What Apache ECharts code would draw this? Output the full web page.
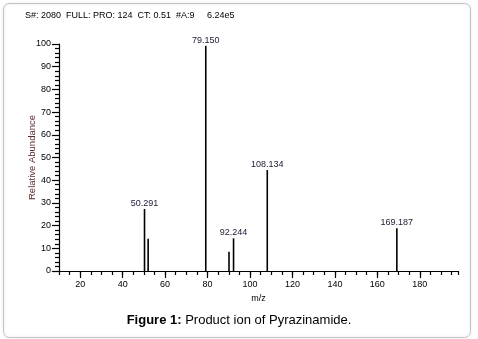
<!DOCTYPE html>
<html><head><meta charset="utf-8">
<script src="https://cdn.jsdelivr.net/npm/echarts@6/dist/echarts.min.js"></script>
<style>html,body{margin:0;padding:0;background:#fff}#c{width:478px;height:339px}</style>
</head><body><div id="c"></div>
<script>
const peakMz = [50.291, 52.0, 79.150, 90.1, 92.244, 108.134, 169.187];
const peakAbund = [27.3, 14.2, 99.2, 8.5, 14.4, 44.5, 18.8];
const peakLabels = ['50.291', '', '79.150', '', '92.244', '108.134', '169.187'];
const xMajorTicks = [20, 40, 60, 80, 100, 120, 140, 160, 180];
const headerText = 'S#: 2080  FULL: PRO: 124  CT: 0.51  #A:9';
const headerTic = '6.24e5';
const yTitle = 'Relative Abundance';
const xTitle = 'm/z';

const chart = echarts.init(document.getElementById('c'));
const font = 'Arial, "Liberation Sans", sans-serif';
chart.setOption({
  animation: false,
  textStyle: { fontFamily: font },
  grid: { left: 59, right: 20, top: 44, bottom: 68, containLabel: false },
  xAxis: [{
    type: 'value', min: 10, max: 198,
    name: xTitle, nameLocation: 'middle', nameGap: 21,
    nameTextStyle: { fontSize: 9, color: '#000', fontFamily: font },
    axisLine: { show: true, lineStyle: { color: '#000', width: 1.2 } },
    axisTick: { show: true, length: 7, customValues: xMajorTicks, lineStyle: { color: '#000', width: 1.2 } },
    axisLabel: { customValues: xMajorTicks, fontSize: 9, color: '#000', margin: 9, fontFamily: font },
    splitLine: { show: false }
  }, {
    type: 'value', min: 10, max: 198, interval: 5, position: 'bottom',
    axisLine: { show: false },
    axisTick: { show: true, length: 4, lineStyle: { color: '#000', width: 1.2 } },
    axisLabel: { show: false },
    splitLine: { show: false }
  }],
  yAxis: {
    type: 'value', min: 0, max: 100, interval: 10,
    name: yTitle, nameLocation: 'middle', nameGap: 22, nameMoveOverlap: false,
    nameTextStyle: { fontSize: 9.5, color: '#5c2a2a', fontFamily: font },
    axisLine: { show: true, lineStyle: { color: '#000', width: 1.2 } },
    axisTick: { show: true, length: 7, lineStyle: { color: '#000', width: 1.2 } },
    minorTick: { show: true, splitNumber: 5, length: 4, lineStyle: { color: '#000', width: 1.2 } },
    axisLabel: { fontSize: 9, color: '#000', margin: 8, fontFamily: font },
    splitLine: { show: false }
  },
  series: [{
    type: 'bar', xAxisIndex: 0, barWidth: 1.6,
    itemStyle: { color: '#000' },
    data: peakMz.map((m, i) => ({ value: [m, peakAbund[i]], name: peakLabels[i] })),
    label: { show: true, position: 'top', distance: 1, fontSize: 9, color: '#1a1a33', fontFamily: font,
      formatter: p => p.name }
  }],
  graphic: [
    { type: 'rect', shape: { x: 3.5, y: 3.5, width: 467, height: 334, r: 6 },
      style: { fill: 'none', stroke: '#c4c4c4', lineWidth: 1, shadowBlur: 3, shadowColor: 'rgba(0,0,0,0.15)' }, silent: true },
    { type: 'text', left: 25, top: 11, style: { text: headerText, fontSize: 9, fill: '#000', fontFamily: font } },
    { type: 'text', left: 207, top: 11, style: { text: headerTic, fontSize: 9, fill: '#000', fontFamily: font } },
    { type: 'text', left: 'center', top: 314, style: {
      text: '{b|Figure 1:} Product ion of Pyrazinamide.',
      fontSize: 13, fill: '#000', fontFamily: font,
      rich: { b: { fontWeight: 'bold', fontSize: 13, fontFamily: font } } } }
  ]
});
</script></body></html>
